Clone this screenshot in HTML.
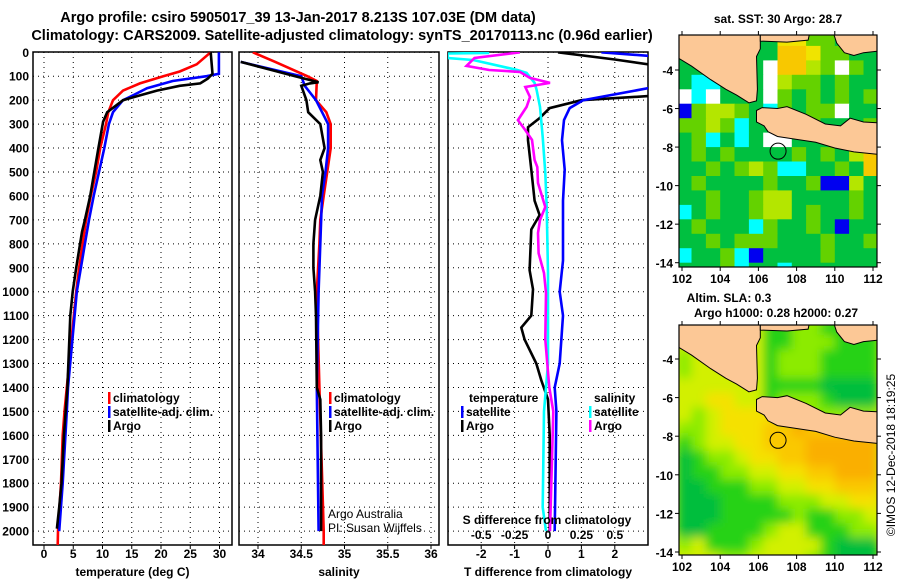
<!DOCTYPE html>
<html><head><meta charset="utf-8">
<style>
html,body{margin:0;padding:0;background:#fff;}
svg{display:block;font-family:"Liberation Sans",Arial,sans-serif;}
.b{font-weight:bold;font-size:12px;}
.t{font-weight:bold;font-size:14.5px;}
</style></head>
<body>
<svg id="chart" width="900" height="580" viewBox="0 0 900 580" xmlns="http://www.w3.org/2000/svg">
<defs>
<clipPath id="c1"><rect x="33" y="52" width="199" height="493"/></clipPath>
<clipPath id="c2"><rect x="239" y="52" width="200" height="493"/></clipPath>
<clipPath id="c3"><rect x="448" y="52" width="200" height="493"/></clipPath>
<clipPath id="cm1"><rect x="679" y="35" width="198" height="232"/></clipPath>
<clipPath id="cm2"><rect x="679" y="325" width="198" height="230"/></clipPath>
<filter id="blur" x="-5%" y="-5%" width="110%" height="110%"><feGaussianBlur stdDeviation="5"/></filter>
</defs>
<text class="t" x="298" y="22" text-anchor="middle">Argo profile: csiro 5905017_39 13-Jan-2017 8.213S 107.03E (DM data)</text>
<text class="t" x="342" y="40" text-anchor="middle">Climatology: CARS2009. Satellite-adjusted climatology: synTS_20170113.nc (0.96d earlier)</text>
<g id="root"></g>
</svg>
<script>
// ---------- profile data ----------
const tempClimDepth=[0,50,80,100,130,160,200,250,300,400,500,600,700,800,900,1000,1400,1500,1600,1800,2000,2060];
const tempClim=[28.5,26.1,23.2,20.4,16.4,13.5,11.8,11,10.6,9.6,8.9,8,7.2,6.6,6,5.5,3.9,3.5,3.2,2.9,2.4,2.35];
const tempSatDepth=[0,90,100,120,150,180,200,250,300,400,500,600,700,800,900,1000,1400,1500,1800,2000];
const tempSat=[29.9,29.9,27.8,22,17.6,15.2,13.5,11.8,11.1,10.3,9.4,8.5,7.7,7,6.3,5.6,4.1,3.9,3.2,2.6];
const tempArgoDepth=[0,90,110,130,140,160,180,200,250,290,400,500,600,700,750,900,1000,1100,1400,1600,1800,1900,1990];
const tempArgo=[28.5,28.8,28,26.7,23.2,19.3,16.4,13.5,10.8,10.1,9.3,8.6,7.9,7,6.5,5.5,4.9,4.5,4.0,3.4,3.0,2.6,2.2];

const salClimDepth=[0,40,100,120,200,250,300,400,500,600,700,800,1000,1400,2000,2060];
const salClim=[33.94,34.2,34.57,34.68,34.67,34.79,34.84,34.84,34.8,34.76,34.72,34.71,34.68,34.71,34.76,34.76];
const salSatDepth=[40,100,140,200,300,400,500,600,800,1000,1400,2000];
const salSat=[33.8,34.5,34.54,34.67,34.81,34.81,34.78,34.74,34.72,34.7,34.68,34.7];
const salArgoDepth=[40,100,125,130,140,200,250,300,400,450,500,600,700,800,900,1000,1100,1400,1450,1600,2000];
const salArgo=[33.8,34.43,34.7,34.6,34.5,34.56,34.58,34.72,34.77,34.72,34.75,34.72,34.66,34.64,34.64,34.66,34.67,34.68,34.72,34.73,34.73];

const tdArgoDepth=[0,30,60,150,183,200,233,275,313,367,490,620,680,740,910,990,1100,1150,1200,1300,1370,1450,1600,2000];
const tdArgo=[0.3,2,3.5,3.5,3,1.0,0.05,-0.25,-0.6,-0.6,-0.5,-0.4,-0.25,-0.5,-0.55,-0.45,-0.5,-0.8,-0.7,-0.35,-0.2,0.0,0.05,0.05];
const tdSatDepth=[0,20,140,150,200,233,283,367,490,620,870,1000,1100,1300,1400,1500,2000];
const tdSat=[1.6,3.5,3.5,3,1.05,0.65,0.48,0.42,0.5,0.45,0.45,0.35,0.45,0.35,0.2,0.25,0.2];
const sdArgoDepth=[0,24,57,74,82,107,128,145,187,228,283,325,366,450,479,546,646,700,755,839,922,1005,1200,1400,1500,2000];
const sdArgo=[-0.21,-0.55,-0.61,-0.44,-0.21,-0.135,0.015,-0.17,-0.135,-0.16,-0.225,-0.17,-0.12,-0.1,-0.08,-0.075,-0.02,-0.06,-0.075,-0.07,-0.03,-0.015,-0.02,0.01,0.04,0.015];
const sdSatDepth=[3,5,24,32,74,86,107,128,157,228,354,504,646,922,1300,1500,1900,2000];
const sdSat=[-0.44,-0.75,-0.75,-0.56,-0.23,-0.16,-0.13,-0.1,-0.085,-0.06,-0.04,-0.02,-0.01,0.0,0.0,-0.03,-0.04,-0.015];

const depthTicks=[0,100,200,300,400,500,600,700,800,900,1000,1100,1200,1300,1400,1500,1600,1700,1800,1900,2000];
const tempTicks=[0,5,10,15,20,25,30];
const salTicks=[34,34.5,35,35.5,36];
const salTickLabels=["34","34.5","35","35.5","36"];
const tdTicks=[-2,-1,0,1,2];
const sdTicks=[-0.5,-0.25,0,0.25,0.5];
const sdTickLabels=["-0.5","-0.25","0","0.25","0.5"];
const lonTicks=[102,104,106,108,110,112];
const latTicks=[-4,-6,-8,-10,-12,-14];

// ---------- map grids (0.75 deg cells from lon 101.75, lat -2) ----------
const sstRows=["gggggggYYllggg","gggggggooYllgg","ggggggwooylwlg","gccgggwyllglgg","wcwgggwlglglgl","blyylgclgllwgg","llylcgggllgggl","glcgcgwwgggglg","glglgggglglgyo","gglglylccgglgo","glgggglgglbbyg","gglgglyygggglg","cglgglyyglgglg","glgggclgglgbgg","gglglllggglggl","cgglcbgggglggg","ggglcggcgggggg"];
const slaRows=["yyyyyyggllgggg","yyyyyygglllggg","lyyyyyglllgggg","lyyyyyglllgggg","yyyyyyggggdddd","yyYYyyglllgddd","ylyYYYYlllllll","llyYYYooOooooo","glyyYYoooOOOOO","dgllyYYooOOOOO","dggllyyYYooOOO","ddgggllyyYYooo","dddgggglllyyYY","dddggggglgglly","ddgggglyygggll","lyggglyyyygddd","yyyllyyyylgddd"];
const sstColors={g:"#00c040",l:"#64d200",y:"#b4e600",Y:"#f0e400",o:"#f8c800",c:"#00ffff",b:"#0000f0",w:"#ffffff"};
const slaColors={d:"#00be3c",g:"#28d214",l:"#8ceb00",y:"#d2f000",Y:"#f5e100",o:"#fac800",O:"#faaf00"};

// land polygons lon/lat
const landSumatra=[[101.5,-2],[106.1,-2],[106.1,-2.9],[105.9,-3.3],[105.95,-5.0],[105.9,-5.6],[105.5,-5.7],[104.86,-5.3],[104.3,-5.0],[103.5,-4.5],[102.5,-3.8],[101.84,-3.4],[101.5,-3.2]];
const landTop=[[106.1,-2],[108.7,-2],[108.6,-2.45],[107.5,-2.55],[106.1,-2.5]];
const landBorneo=[[109.9,-2],[112.5,-2],[112.5,-3.0],[111.5,-3.1],[111,-3.25],[110.5,-3.1],[110.1,-2.6]];
const landJava=[[105.9,-6.1],[106.2,-5.95],[107,-6.0],[107.5,-5.9],[108.5,-6.3],[109.5,-6.8],[110.3,-6.9],[110.8,-6.5],[111.5,-6.7],[112.5,-6.75],[112.5,-8.4],[111,-8.25],[110,-8.05],[109,-7.75],[108,-7.6],[107,-7.45],[106.5,-7.2],[106.3,-6.9],[105.9,-6.7]];

const NS="http://www.w3.org/2000/svg";
const root=document.getElementById('root');
function el(tag,attrs,parent,text){const e=document.createElementNS(NS,tag);for(const k in attrs)e.setAttribute(k,attrs[k]);if(text!==undefined)e.textContent=text;(parent||root).appendChild(e);return e;}

const yD=d=>52.3+d*0.2394;
const xT=t=>44+t*5.85;
const xS=s=>258+(s-34)*86.5;
const xTd=v=>548+v*33.4;
const xSd=v=>548+v*133.6;
const mx=lon=>682+(lon-102)*19.1;
const myTop=lat=>70+(-4-lat)*19.27;
const myBot=lat=>359+(-4-lat)*19.3;

function panel(name,x0,x1,xTicksArr,xfun,labels,title){
  const g=el('g',{});
  
  
  depthTicks.forEach(d=>{const l=el('line',{x1:x0,x2:x1,y1:yD(d),y2:yD(d),stroke:'#000','stroke-width':1,'stroke-dasharray':'1,4'},g);
    });
  xTicksArr.forEach((v,i)=>{const X=xfun(v);
    const l=el('line',{x1:X,x2:X,y1:52,y2:545,stroke:'#000','stroke-width':1,'stroke-dasharray':'1,4'},g);
    
    const t=el('text',{x:X,y:558,'text-anchor':'middle',class:'b'},g,labels[i]);
    
    el('line',{x1:X,x2:X,y1:545,y2:549,stroke:'#000'},g);
  });
  const fr=el('rect',{x:x0,y:52,width:x1-x0,height:493,fill:'none',stroke:'#000','stroke-width':1.5},g);
  
  const tt=el('text',{x:(x0+x1)/2,y:576,'text-anchor':'middle',class:'b'},g,title);
  
  return g;
}
function series(name,depths,vals,xf,color,clip){
  const pts=depths.map((d,i)=>xf(vals[i]).toFixed(1)+','+yD(d).toFixed(1)).join(' ');
  const p=el('polyline',{points:pts,fill:'none',stroke:color,'stroke-width':2.6,'clip-path':'url(#'+clip+')','stroke-linejoin':'miter'});
  
  
}

depthTicks.forEach(d=>{const t=el('text',{x:29,y:yD(d)+4.5,'text-anchor':'end',class:'b'},root,String(d));
  });

panel('temperature-panel',33,232,tempTicks,xT,tempTicks.map(String),'temperature (deg C)');
panel('salinity-panel',239,439,salTicks,xS,salTickLabels,'salinity');
panel('difference-panel',448,648,tdTicks,xTd,tdTicks.map(String),'T difference from climatology');

series('temp-climatology-line',tempClimDepth,tempClim,xT,'#ff0000','c1');
series('temp-satellite-line',tempSatDepth,tempSat,xT,'#0000ff','c1');
series('temp-argo-line',tempArgoDepth,tempArgo,xT,'#000000','c1');
series('sal-climatology-line',salClimDepth,salClim,xS,'#ff0000','c2');
series('sal-satellite-line',salSatDepth,salSat,xS,'#0000ff','c2');
series('sal-argo-line',salArgoDepth,salArgo,xS,'#000000','c2');
series('tdiff-argo-line',tdArgoDepth,tdArgo,xTd,'#000000','c3');
series('tdiff-satellite-line',tdSatDepth,tdSat,xTd,'#0000ff','c3');
series('sdiff-satellite-line',sdSatDepth,sdSat,xSd,'#00ffff','c3');
series('sdiff-argo-line',sdArgoDepth,sdArgo,xSd,'#ff00ff','c3');

function legend(x,y,color,label){
  const g=el('g',{});
  
  
  el('rect',{x:x,y:y-10,width:2.5,height:12,fill:color},g);
  el('text',{x:x+5,y:y,class:'b'},g,label);
}
legend(108,402,'#ff0000','climatology');legend(108,416,'#0000ff','satellite-adj. clim.');legend(108,430,'#000','Argo');
legend(329,402,'#ff0000','climatology');legend(329,416,'#0000ff','satellite-adj. clim.');legend(329,430,'#000','Argo');
el('text',{x:469,y:402,class:'b'},root,'temperature');
legend(461,416,'#0000ff','satellite');legend(461,430,'#000','Argo');
el('text',{x:594,y:402,class:'b'},root,'salinity');
legend(589,416,'#00ffff','satellite');legend(589,430,'#ff00ff','Argo');
el('text',{x:328,y:518,'font-size':'12px'},root,'Argo Australia');
el('text',{x:328,y:532,'font-size':'12px'},root,'PI: Susan Wijffels');
el('text',{x:547,y:524,'text-anchor':'middle',class:'b'},root,'S difference from climatology');
sdTicks.forEach((v,i)=>{const t=el('text',{x:xSd(v),y:539,'text-anchor':'middle',class:'b'},root,sdTickLabels[i]);
  });

function drawMap(name,rows,colors,myf,clip,top,bottom,blur){
  const g=el('g',{'clip-path':'url(#'+clip+')'});
  
  
  el('rect',{x:679,y:top,width:198,height:bottom-top,fill:blur?'#d2f000':'#00c040'},g);
  const cg=el('g',blur?{filter:'url(#blur)'}:{},g);
  rows.forEach((row,r)=>{for(let c=0;c<row.length;c++){
    const lon0=101.75+c*0.75,lat0=-2-r*0.75;
    const x=mx(lon0),y=myf(lat0),w=mx(lon0+0.75)-x,h=myf(lat0-0.75)-y;
    const cell=el('rect',{x:x.toFixed(1),y:y.toFixed(1),width:(w+0.5).toFixed(1),height:(h+0.5).toFixed(1),fill:colors[row[c]]},cg);
    
    
  }});
  [landSumatra,landTop,landBorneo,landJava].forEach(poly=>{
    const p=el('polygon',{points:poly.map(q=>mx(q[0]).toFixed(1)+','+myf(q[1]).toFixed(1)).join(' '),fill:'#fcc896',stroke:'#000','stroke-width':1},g);
    
  });
  const c=el('circle',{cx:mx(107.03),cy:myf(-8.213),r:8,fill:'none',stroke:'#000','stroke-width':1},g);
  
  const fr=el('rect',{x:679,y:top,width:198,height:bottom-top,fill:'none',stroke:'#000','stroke-width':1.2});
  
  lonTicks.forEach(v=>{const t=el('text',{x:mx(v),y:bottom+16,'text-anchor':'middle',class:'b','font-size':'13px'},root,String(v));
    
    el('line',{x1:mx(v),x2:mx(v),y1:top-4,y2:top,stroke:'#000'});el('line',{x1:mx(v),x2:mx(v),y1:bottom,y2:bottom+4,stroke:'#000'});});
  latTicks.forEach(v=>{const t=el('text',{x:673,y:myf(v)+5,'text-anchor':'end',class:'b','font-size':'13px'},root,String(v));
    
    el('line',{x1:675,x2:679,y1:myf(v),y2:myf(v),stroke:'#000'});el('line',{x1:877,x2:881,y1:myf(v),y2:myf(v),stroke:'#000'});});
}
drawMap('sst-map',sstRows,sstColors,myTop,'cm1',35,267,false);
drawMap('sla-map',slaRows,slaColors,myBot,'cm2',325,555,true);
el('text',{x:778,y:23,'text-anchor':'middle',class:'b'},root,'sat. SST: 30 Argo: 28.7');
el('text',{x:729,y:302,'text-anchor':'middle',class:'b'},root,'Altim. SLA: 0.3');
el('text',{x:776,y:317,'text-anchor':'middle',class:'b'},root,'Argo h1000: 0.28 h2000: 0.27');
el('text',{x:895,y:455,'text-anchor':'middle','font-size':'12px',transform:'rotate(-90 895 455)'},root,'©IMOS 12-Dec-2018 18:19:25');
</script>
</body></html>
